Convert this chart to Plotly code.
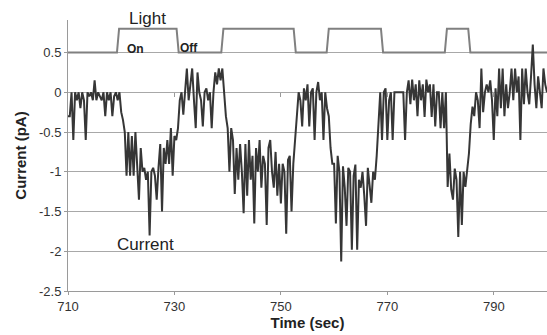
import plotly.graph_objects as go

# Light stimulus (step trace)
light_t = [710, 719.2, 719.6, 730.4, 730.8, 738.8, 739.2, 752.4, 752.8, 758.6,
           759.0, 768.8, 769.2, 780.8, 781.2, 785.2, 785.6, 800]
light_v = [0.5, 0.5, 0.8, 0.8, 0.5, 0.5, 0.8, 0.8, 0.5, 0.5,
           0.8, 0.8, 0.5, 0.5, 0.8, 0.8, 0.5, 0.5]

# Current trace, 3 samples per second starting at 710 s
current_t0 = 710.0
current_dt = 1.0 / 3.0
current_v = [
    -0.3, -0.3, 0.0,     # 710
    -0.6, 0.0, -0.1,     # 711
    0.0, -0.2, 0.0,      # 712
    -0.1, -0.6, 0.0,     # 713
    -0.05, 0.0, -0.1,    # 714
    0.15, -0.1, 0.0,     # 715
    -0.05, -0.1, 0.0,    # 716
    -0.3, 0.0, -0.1,     # 717
    0.0, -0.3, -0.05,    # 718
    0.0, -0.1, 0.0,      # 719
    -0.25, -0.35, -0.5,  # 720
    -1.05, -0.5, -1.05,  # 721
    -0.55, -1.05, -0.5,  # 722
    -0.9, -1.35, -0.7,   # 723
    -1.0, -0.95, -1.1,   # 724
    -1.0, -1.8, -1.0,    # 725
    -0.95, -1.05, -1.35, # 726
    -0.95, -0.65, -1.5,  # 727
    -0.7, -0.9, -0.6,    # 728
    -0.9, -0.45, -1.05,  # 729
    -0.55, -0.6, -0.45,  # 730
    -0.1, 0.0, -0.28,    # 731
    0.0, 0.3, -0.1,      # 732
    0.1, 0.3, -0.1,      # 733
    -0.45, 0.25, 0.0,    # 734
    -0.1, -0.43, 0.0,    # 735
    0.05, -0.1, 0.0,     # 736
    -0.45, 0.0, 0.25,    # 737
    0.1, 0.3, 0.15,      # 738
    0.3, 0.0, -0.3,      # 739
    -0.45, -1.0, -0.45,  # 740
    -0.6, -1.28, -0.7,   # 741
    -1.1, -0.65, -1.0,   # 742
    -1.52, -0.65, -1.3,  # 743
    -0.6, -1.1, -0.8,    # 744
    -1.65, -0.7, -1.0,   # 745
    -0.6, -1.2, -0.8,    # 746
    -0.9, -1.67, -0.7,   # 747
    -0.6, -1.0, -1.2,    # 748
    -0.75, -1.3, -0.9,   # 749
    -1.4, -0.9, -1.0,    # 750
    -1.78, -0.85, -0.8,  # 751
    -1.5, -0.9, -0.6,    # 752
    -0.3, 0.0, -0.1,     # 753
    -0.43, 0.05, -0.1,   # 754
    0.1, -0.43, 0.0,     # 755
    0.05, -0.6, 0.0,     # 756
    0.13, -0.1, 0.0,     # 757
    -0.6, 0.0, -0.2,     # 758
    -0.3, -0.7, -0.9,    # 759
    -0.9, -1.65, -0.8,   # 760
    -1.0, -2.13, -0.93,  # 761
    -1.2, -1.68, -0.95,  # 762
    -1.0, -1.98, -1.05,  # 763
    -0.91, -1.98, -1.1,  # 764
    -1.2, -1.0, -1.3,    # 765
    -1.68, -0.95, -1.2,  # 766
    -1.39, -1.0, -1.1,   # 767
    -0.8, -0.3, 0.0,     # 768
    -0.6, 0.0, 0.05,     # 769
    -0.6, -0.1, 0.0,     # 770
    -0.6, 0.0, 0.0,      # 771
    0.0, 0.0, 0.0,       # 772
    0.0, -0.6, 0.0,      # 773
    0.15, -0.15, 0.16,   # 774
    -0.1, 0.1, -0.3,     # 775
    0.15, -0.1, 0.1,     # 776
    -0.31, 0.16, 0.0,    # 777
    0.1, -0.31, 0.1,     # 778
    -0.43, 0.0, 0.0,     # 779
    -0.45, 0.0, -0.45,   # 780
    0.0, -1.19, -0.77,   # 781
    -1.22, -1.35, -0.96, # 782
    -1.1, -1.82, -1.0,   # 783
    -1.67, -1.0, -1.19,  # 784
    -1.0, -0.77, -0.4,   # 785
    -0.18, -0.3, 0.0,    # 786
    -0.1, -0.45, 0.3,    # 787
    -0.25, 0.0, 0.1,     # 788
    0.0, 0.15, -0.1,     # 789
    -0.6, 0.05, -0.3,    # 790
    0.3, -0.2, 0.3,      # 791
    -0.3, 0.1, -0.2,     # 792
    0.0, 0.3, -0.1,      # 793
    0.3, 0.0, 0.2,       # 794
    -0.6, 0.3, -0.15,    # 795
    0.3, 0.0, -0.15,     # 796
    0.2, 0.6, 0.1,       # 797
    -0.2, 0.2, 0.0,      # 798
    -0.2, 0.3, 0.1,      # 799
    0.0,                 # 800
]
current_t = [current_t0 + i * current_dt for i in range(len(current_v))]

x_ticks = [710, 730, 750, 770, 790]
y_ticks = [0.5, 0, -0.5, -1, -1.5, -2, -2.5]
zero_ticks = [730, 750, 770, 790]

FONT = "Arial, Liberation Sans, sans-serif"

fig = go.Figure()
fig.add_trace(go.Scatter(x=light_t, y=light_v, mode="lines",
                         line=dict(color="#808080", width=2), showlegend=False,
                         cliponaxis=False))
fig.add_trace(go.Scatter(x=current_t, y=current_v, mode="lines",
                         line=dict(color="#363636", width=2), showlegend=False,
                         cliponaxis=False))
fig.add_trace(go.Scatter(x=[710], y=[None], xaxis="x2", showlegend=False,
                         hoverinfo="skip"))

fig.update_layout(
    width=547, height=335,
    margin=dict(l=68, r=0, t=20, b=44, autoexpand=False),
    paper_bgcolor="white", plot_bgcolor="white",
    font=dict(family=FONT, color="#333333", size=13),
    xaxis=dict(range=[710, 800], tickvals=x_ticks, ticktext=[str(v) for v in x_ticks],
               showgrid=False, zeroline=False, showline=True, linecolor="#9a9a9a",
               linewidth=1, ticks="outside", ticklen=3, tickcolor="#9a9a9a",
               tickfont=dict(size=13, color="#333333"), automargin=False,
               title=dict(text="<b>Time (sec)</b>", font=dict(size=15, color="#222222"),
                          standoff=3)),
    yaxis=dict(range=[-2.5, 0.91], tickvals=y_ticks, ticktext=[str(v) for v in y_ticks],
               showgrid=True, gridcolor="#a8a8a8", gridwidth=1, zeroline=False,
               showline=True, linecolor="#9a9a9a", linewidth=1,
               ticks="outside", ticklen=3, tickcolor="#9a9a9a",
               tickfont=dict(size=13, color="#333333"), automargin=False,
               title=dict(text="<b>Current (pA)</b>", font=dict(size=15, color="#222222"),
                          standoff=8)),
    xaxis2=dict(overlaying="x", matches="x", anchor="free", position=2.5 / 3.41,
                side="bottom", showline=False, showgrid=False, zeroline=False,
                tickvals=zero_ticks, showticklabels=False, ticks="outside",
                ticklen=4, tickcolor="#9a9a9a", range=[710, 800], automargin=False),
)

fig.add_annotation(x=725, xref="x", y=1.004, yref="paper", text="Light", showarrow=False,
                   font=dict(size=17, color="#222222", family=FONT), yanchor="middle")
fig.add_annotation(x=722.7, y=0.55, text="<b>On</b>", showarrow=False,
                   font=dict(size=12, color="#222222", family=FONT), yanchor="middle")
fig.add_annotation(x=732.8, y=0.56, text="<b>Off</b>", showarrow=False,
                   font=dict(size=12, color="#222222", family=FONT), yanchor="middle")
fig.add_annotation(x=724.6, y=-1.92, text="Current", showarrow=False,
                   font=dict(size=17, color="#222222", family=FONT), yanchor="middle")

fig.write_html("out.html", config={"displayModeBar": False},
               post_script="document.body.style.margin='0';document.body.style.overflow='hidden';")
